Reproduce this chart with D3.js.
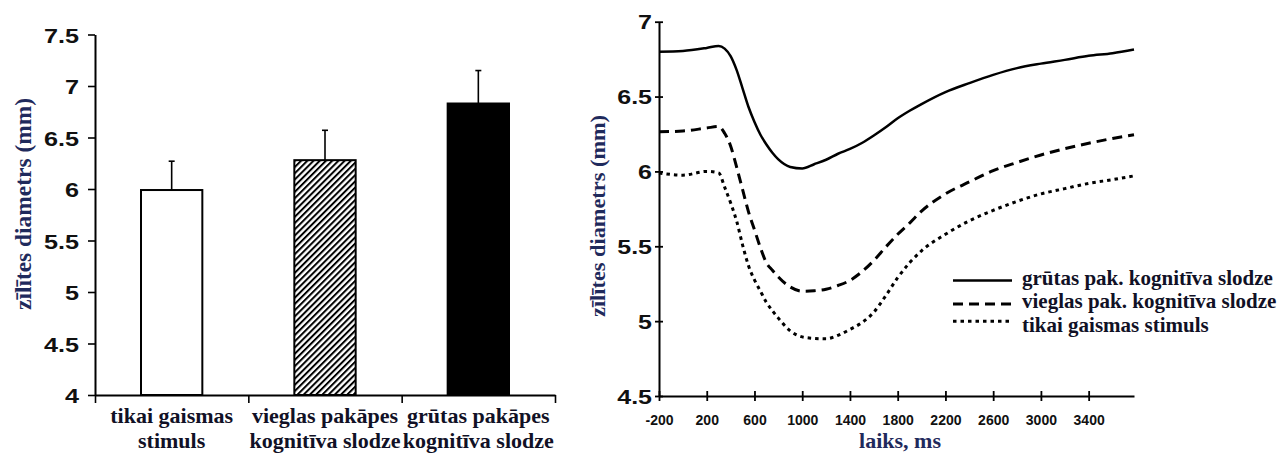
<!DOCTYPE html>
<html><head><meta charset="utf-8">
<script src="https://cdn.jsdelivr.net/npm/d3@7"></script>
<style>body{margin:0;background:#fff}svg{display:block}</style>
</head><body>
<svg id="c" width="1281" height="455"></svg>
<script>
// ---------- data ----------
const barCategories = [["tikai gaismas","stimuls"],["vieglas pakāpes","kognitīva slodze"],["grūtas pakāpes","kognitīva slodze"]];
const barMeans = [5.99, 6.28, 6.83];
const barErrors = [0.28, 0.29, 0.32];
const barYTicks = [4, 4.5, 5, 5.5, 6, 6.5, 7, 7.5];

const timeMs = [-200, 0, 200, 300, 350, 400, 450, 500, 550, 600, 650, 700, 750, 800, 900, 1000, 1100, 1200, 1300, 1400, 1500, 1600, 1700, 1800, 1900, 2000, 2200, 2400, 2600, 2800, 3000, 3200, 3400, 3600, 3780];
const heavyLoad = [6.80, 6.805, 6.825, 6.838, 6.82, 6.77, 6.678, 6.555, 6.43, 6.33, 6.245, 6.18, 6.125, 6.08, 6.03, 6.02, 6.048, 6.078, 6.118, 6.15, 6.19, 6.24, 6.295, 6.355, 6.405, 6.45, 6.53, 6.59, 6.645, 6.69, 6.72, 6.745, 6.772, 6.79, 6.815];
const lightLoad = [6.265, 6.27, 6.29, 6.30, 6.255, 6.17, 6.03, 5.88, 5.73, 5.61, 5.49, 5.39, 5.34, 5.295, 5.228, 5.20, 5.203, 5.213, 5.238, 5.272, 5.33, 5.405, 5.495, 5.58, 5.655, 5.735, 5.85, 5.93, 6.005, 6.06, 6.11, 6.152, 6.188, 6.22, 6.245];
const lightOnly = [5.99, 5.975, 6.0, 5.99, 5.895, 5.79, 5.67, 5.51, 5.37, 5.275, 5.20, 5.125, 5.07, 5.02, 4.935, 4.895, 4.885, 4.882, 4.905, 4.945, 4.99, 5.06, 5.17, 5.29, 5.39, 5.47, 5.58, 5.67, 5.74, 5.80, 5.85, 5.885, 5.92, 5.945, 5.97];
const seriesNames = ["grūtas pak. kognitīva slodze", "vieglas pak. kognitīva slodze", "tikai gaismas stimuls"];
const lineYTicks = [4.5, 5, 5.5, 6, 6.5, 7];
const lineXTicks = [-200, 200, 600, 1000, 1400, 1800, 2200, 2600, 3000, 3400];
const yTitle = "zīlītes diametrs (mm)";
const xTitle = "laiks, ms";

// ---------- styles ----------
const SERIF = "'Liberation Serif','Times New Roman',serif";
const SANS = "'Liberation Sans',Arial,sans-serif";
const navy = "#1f2a5c";
const ink = "#111126";
const dashStyles = [null, "10,6", "3.5,4"];
const legendDy = [-4.5, -4.5, -10.5];

const svg = d3.select("#c");
const defs = svg.append("defs");
defs.append("pattern").attr("id","hatch").attr("patternUnits","userSpaceOnUse")
  .attr("width",4.4).attr("height",4.4).attr("patternTransform","rotate(45)")
  .append("rect").attr("x",0).attr("y",0).attr("width",2).attr("height",4.4).attr("fill","#000");
const fills = ["#fff", "url(#hatch)", "#000"];
const fmt = d => String(d);

// ---------- left bar chart ----------
const yL = d3.scaleLinear().domain([4, 7.5]).range([395, 34.5]);
const xL = d3.scaleBand().domain(d3.range(barCategories.length)).range([95, 555]);
const bw = xL.bandwidth() * 0.4;

const gL = svg.append("g");
gL.selectAll("rect.bar").data(barMeans).join("rect").attr("class","bar")
  .attr("x", (d,i) => xL(i) + (xL.bandwidth() - bw) / 2)
  .attr("width", bw)
  .attr("y", d => yL(d))
  .attr("height", d => yL(4) - yL(d))
  .attr("fill", (d,i) => fills[i]).attr("stroke","#000").attr("stroke-width",2);

barMeans.forEach((m,i) => {
  const cx = xL(i) + xL.bandwidth()/2;
  gL.append("line").attr("x1",cx).attr("x2",cx).attr("y1",yL(m)).attr("y2",yL(m+barErrors[i]))
    .attr("stroke","#000").attr("stroke-width",1.6);
  gL.append("line").attr("x1",cx-3).attr("x2",cx+3).attr("y1",yL(m+barErrors[i])).attr("y2",yL(m+barErrors[i]))
    .attr("stroke","#000").attr("stroke-width",1.6);
});

const axYL = gL.append("g").attr("transform","translate(95,0)")
  .call(d3.axisLeft(yL).tickValues(barYTicks).tickFormat(fmt).tickSize(7).tickSizeOuter(0));
axYL.select(".domain").attr("stroke-width",2);
axYL.selectAll(".tick line").attr("stroke-width",1.6);
axYL.selectAll(".tick text").attr("x",null).attr("dy","0.36em")
  .attr("transform","translate(-16,0) scale(1.2,1)")
  .style("font-family",SANS).style("font-weight","bold").style("font-size","21px").attr("fill","#111");

const xBound = d3.scaleLinear().domain([0, barCategories.length]).range([95, 555]);
const axXL = gL.append("g").attr("transform","translate(0,395)")
  .call(d3.axisBottom(xBound).tickValues(d3.range(barCategories.length+1)).tickFormat("").tickSize(8).tickSizeOuter(0));
axXL.select(".domain").attr("stroke-width",2);
axXL.selectAll(".tick line").attr("stroke-width",1.6);

barCategories.forEach((lines,i) => {
  const t = gL.append("text").attr("text-anchor","middle")
    .style("font-family",SERIF).style("font-weight","bold").style("font-size","22px").attr("fill",ink);
  lines.forEach((s,k) => t.append("tspan").attr("x", xL(i)+xL.bandwidth()/2).attr("y", 423 + k*25).text(s));
});

gL.append("text").attr("transform","translate(31,204) rotate(-90)").attr("text-anchor","middle")
  .attr("textLength",212).attr("lengthAdjust","spacingAndGlyphs")
  .style("font-family",SERIF).style("font-weight","bold").style("font-size","23px").attr("fill",navy).text(yTitle);

// ---------- right line chart ----------
const xR = d3.scaleLinear().domain([-200, 3780]).range([659, 1134]);
const yR = d3.scaleLinear().domain([4.5, 7]).range([396, 21.7]);
const gR = svg.append("g");

const axYR = gR.append("g").attr("transform","translate(659,0)")
  .call(d3.axisLeft(yR).tickValues(lineYTicks).tickFormat(fmt).tickSize(0).tickSizeOuter(0));
axYR.select(".domain").attr("stroke-width",2);
axYR.selectAll(".tick line").attr("x1",-4).attr("x2",4).attr("stroke-width",1.8);
axYR.selectAll(".tick text").attr("x",null).attr("dy","0.36em")
  .attr("transform","translate(-7,0) scale(1.25,1)")
  .style("font-family",SANS).style("font-weight","bold").style("font-size","20px").attr("fill","#111");

const axXR = gR.append("g").attr("transform","translate(0,396)")
  .call(d3.axisBottom(xR).tickValues(lineXTicks).tickFormat(fmt).tickSize(0).tickSizeOuter(0));
axXR.select(".domain").attr("stroke-width",2.2);
axXR.selectAll(".tick line").attr("y1",-5).attr("y2",5).attr("stroke-width",1.8);
axXR.selectAll(".tick text").attr("y",19).attr("dy","0.71em")
  .style("font-family",SANS).style("font-weight","bold").style("font-size","14px").attr("fill","#111");

const series = [heavyLoad, lightLoad, lightOnly];
const line = d3.line().x((d,i) => xR(timeMs[i])).y(d => yR(d)).curve(d3.curveMonotoneX);
series.forEach((vals,k) => {
  gR.append("path").attr("d", line(vals)).attr("fill","none").attr("stroke","#000")
    .attr("stroke-width", k===0 ? 2.5 : 3).attr("stroke-dasharray", dashStyles[k]);
});

gR.append("text").attr("x",900).attr("y",448).attr("text-anchor","middle")
  .style("font-family",SERIF).style("font-weight","bold").style("font-size","22px").attr("fill",navy).text(xTitle);
gR.append("text").attr("transform","translate(605,216) rotate(-90)").attr("text-anchor","middle")
  .attr("textLength",202).attr("lengthAdjust","spacingAndGlyphs")
  .style("font-family",SERIF).style("font-weight","bold").style("font-size","22px").attr("fill",navy).text(yTitle);

const lg = gR.append("g");
seriesNames.forEach((name,k) => {
  const by = 285 + k*23.4;
  lg.append("line").attr("x1",953).attr("x2",1012).attr("y1",by+legendDy[k]).attr("y2",by+legendDy[k])
    .attr("stroke","#000").attr("stroke-width", k===0 ? 2.5 : 3).attr("stroke-dasharray", dashStyles[k]);
  lg.append("text").attr("x",1022).attr("y",by)
    .style("font-family",SERIF).style("font-weight","bold").style("font-size","21px").attr("fill",ink).text(name);
});
</script>
</body></html>
